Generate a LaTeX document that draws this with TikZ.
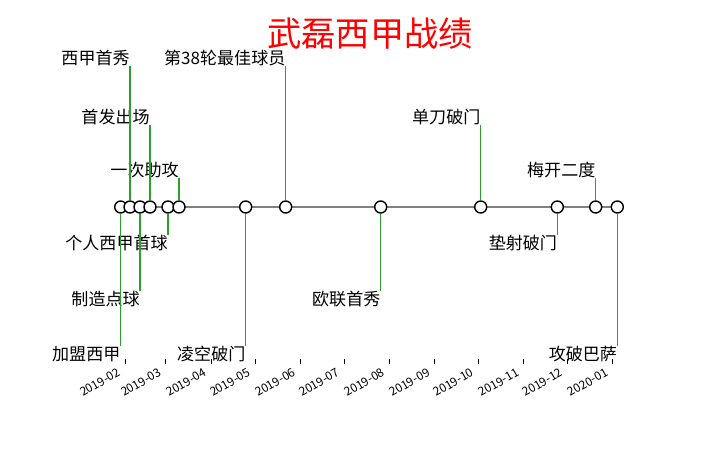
\documentclass[tikz,border=0pt]{standalone}
\usepackage{fontspec}
\setmainfont{Noto Sans CJK SC}
\usepackage{tikz}
\usetikzlibrary{positioning}
\definecolor{stemgreen}{RGB}{44,160,44}
\definecolor{linegrey}{RGB}{128,128,128}
\definecolor{titlered}{RGB}{255,0,0}
\tikzset{
  dot/.style={circle, draw=black, fill=white, minimum size=0.24cm, inner sep=0pt, line width=0.8pt},
  evlabel/.style={inner sep=0pt, font=\fontsize{9.7}{11}\selectfont},
  uplabel/.style={evlabel, anchor=south east},
  downlabel/.style={evlabel, anchor=north east},
  stem/.style={draw=stemgreen, line width=0.9pt},
  timeline/.style={draw=linegrey, line width=0.9pt},
  month/.style={font=\fontsize{6.8}{7}\selectfont, rotate=30, anchor=north east, inner sep=0pt},
  tickmark/.style={line width=0.5pt},
  title/.style={font=\fontsize{19.5}{22}\selectfont, text=titlered, inner sep=0pt}
}
\begin{document}
\begin{tikzpicture}[x=0.02cm, y=-0.02cm]
  \useasboundingbox (0,0) rectangle (720,450);
  % title
  \node[title] (title) at (370,34) {武磊西甲战绩};
  % dates on the line
  \coordinate (t1) at (120.7,207);
  \coordinate (t2) at (130,207);
  \coordinate (t3) at (140,207);
  \coordinate (t4) at (150,207);
  \coordinate (t5) at (168,207);
  \coordinate (t6) at (179,207);
  \coordinate (t7) at (245.7,207);
  \coordinate (t8) at (285.7,207);
  \coordinate (t9) at (380.7,207);
  \coordinate (t10) at (480.7,207);
  \coordinate (t11) at (557.3,207);
  \coordinate (t12) at (595.7,207);
  \coordinate (t13) at (617.3,207);
  \draw[timeline] (t1) -- (t13);
  % markers
  \node[dot] (d1) at (t1) {};
  \node[dot] (d2) at (t2) {};
  \node[dot] (d3) at (t3) {};
  \node[dot] (d4) at (t4) {};
  \node[dot] (d5) at (t5) {};
  \node[dot] (d6) at (t6) {};
  \node[dot] (d7) at (t7) {};
  \node[dot] (d8) at (t8) {};
  \node[dot] (d9) at (t9) {};
  \node[dot] (d10) at (t10) {};
  \node[dot] (d11) at (t11) {};
  \node[dot] (d12) at (t12) {};
  \node[dot] (d13) at (t13) {};
  % events
  \node[downlabel] (e1) at (120.7,346) {加盟西甲};
  \node[uplabel] (e2) at (130,66) {西甲首秀};
  \node[downlabel] (e3) at (140,291) {制造点球};
  \node[uplabel] (e4) at (150,125) {首发出场};
  \node[downlabel] (e5) at (168,235) {个人西甲首球};
  \node[uplabel] (e6) at (179,178) {一次助攻};
  \node[downlabel] (e7) at (245.7,346) {凌空破门};
  \node[uplabel] (e8) at (285.7,66) {第38轮最佳球员};
  \node[downlabel] (e9) at (380.7,291) {欧联首秀};
  \node[uplabel] (e10) at (480.7,125) {单刀破门};
  \node[downlabel] (e11) at (557.3,235) {垫射破门};
  \node[uplabel] (e12) at (595.7,178) {梅开二度};
  \node[downlabel] (e13) at (617.3,346) {攻破巴萨};
  % stems
  \draw[stem] (d1) -- (e1.north east);
  \draw[stem] (d2) -- (e2.south east);
  \draw[stem] (d3) -- (e3.north east);
  \draw[stem] (d4) -- (e4.south east);
  \draw[stem] (d5) -- (e5.north east);
  \draw[stem] (d6) -- (e6.south east);
  \draw[stem] (d7) -- (e7.north east);
  \draw[stem] (d8) -- (e8.south east);
  \draw[stem] (d9) -- (e9.north east);
  \draw[stem] (d10) -- (e10.south east);
  \draw[stem] (d11) -- (e11.north east);
  \draw[stem] (d12) -- (e12.south east);
  \draw[stem] (d13) -- (e13.north east);
  % month axis
  \foreach \x/\m [count=\i] in {125/2019-02, 165.9/2019-03, 211.2/2019-04, 255/2019-05,
      300.3/2019-06, 344.1/2019-07, 389.4/2019-08, 434.6/2019-09, 478.4/2019-10,
      523.7/2019-11, 567.5/2019-12, 612.8/2020-01} {
    \draw[tickmark] (\x,359) -- (\x,364);
    \node[month] (m\i) at ({\x-8},367) {\m};
  }
\end{tikzpicture}
\end{document}
